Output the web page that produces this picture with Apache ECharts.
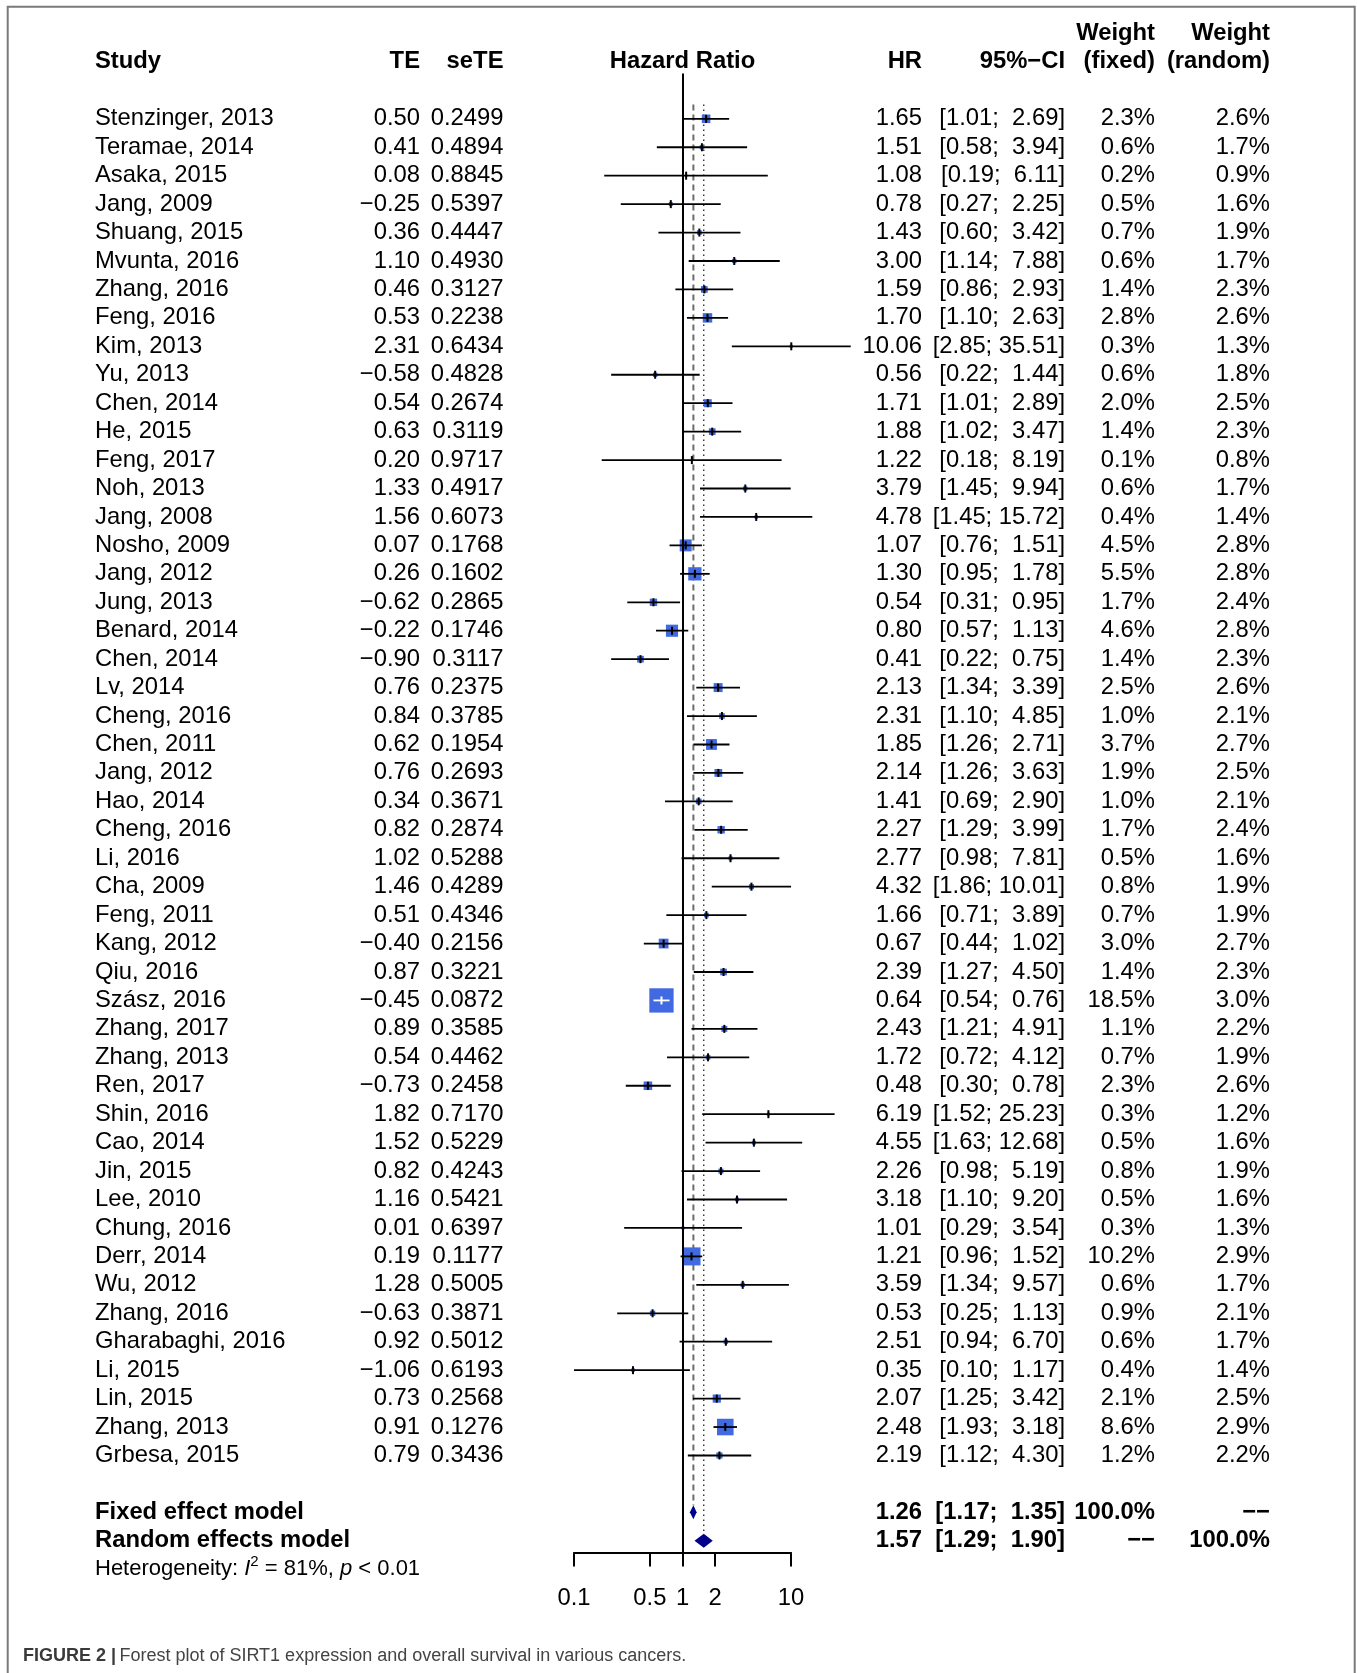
<!DOCTYPE html>
<html>
<head>
<meta charset="utf-8">
<script src="https://cdn.jsdelivr.net/npm/echarts@6/dist/echarts.min.js"></script>
<style>
  html, body { margin: 0; padding: 0; background: #fff; }
  #chart { width: 1357px; height: 1673px; }
</style>
</head>
<body>
<div id="chart"></div>
<script>
// ---- Study-level data (SIRT1 expression vs overall survival) ----
const studies = [
  'Stenzinger, 2013', 'Teramae, 2014', 'Asaka, 2015', 'Jang, 2009', 'Shuang, 2015',
  'Mvunta, 2016', 'Zhang, 2016', 'Feng, 2016', 'Kim, 2013', 'Yu, 2013',
  'Chen, 2014', 'He, 2015', 'Feng, 2017', 'Noh, 2013', 'Jang, 2008',
  'Nosho, 2009', 'Jang, 2012', 'Jung, 2013', 'Benard, 2014', 'Chen, 2014',
  'Lv, 2014', 'Cheng, 2016', 'Chen, 2011', 'Jang, 2012', 'Hao, 2014',
  'Cheng, 2016', 'Li, 2016', 'Cha, 2009', 'Feng, 2011', 'Kang, 2012',
  'Qiu, 2016', 'Szász, 2016', 'Zhang, 2017', 'Zhang, 2013', 'Ren, 2017',
  'Shin, 2016', 'Cao, 2014', 'Jin, 2015', 'Lee, 2010', 'Chung, 2016',
  'Derr, 2014', 'Wu, 2012', 'Zhang, 2016', 'Gharabaghi, 2016', 'Li, 2015',
  'Lin, 2015', 'Zhang, 2013', 'Grbesa, 2015'
];
const te = [
  0.50, 0.41, 0.08, -0.25, 0.36, 1.10, 0.46, 0.53, 2.31, -0.58,
  0.54, 0.63, 0.20, 1.33, 1.56, 0.07, 0.26, -0.62, -0.22, -0.90,
  0.76, 0.84, 0.62, 0.76, 0.34, 0.82, 1.02, 1.46, 0.51, -0.40,
  0.87, -0.45, 0.89, 0.54, -0.73, 1.82, 1.52, 0.82, 1.16, 0.01,
  0.19, 1.28, -0.63, 0.92, -1.06, 0.73, 0.91, 0.79
];
const seTE = [
  0.2499, 0.4894, 0.8845, 0.5397, 0.4447, 0.4930, 0.3127, 0.2238, 0.6434, 0.4828,
  0.2674, 0.3119, 0.9717, 0.4917, 0.6073, 0.1768, 0.1602, 0.2865, 0.1746, 0.3117,
  0.2375, 0.3785, 0.1954, 0.2693, 0.3671, 0.2874, 0.5288, 0.4289, 0.4346, 0.2156,
  0.3221, 0.0872, 0.3585, 0.4462, 0.2458, 0.7170, 0.5229, 0.4243, 0.5421, 0.6397,
  0.1177, 0.5005, 0.3871, 0.5012, 0.6193, 0.2568, 0.1276, 0.3436
];
const hr = [
  1.65, 1.51, 1.08, 0.78, 1.43, 3.00, 1.59, 1.70, 10.06, 0.56,
  1.71, 1.88, 1.22, 3.79, 4.78, 1.07, 1.30, 0.54, 0.80, 0.41,
  2.13, 2.31, 1.85, 2.14, 1.41, 2.27, 2.77, 4.32, 1.66, 0.67,
  2.39, 0.64, 2.43, 1.72, 0.48, 6.19, 4.55, 2.26, 3.18, 1.01,
  1.21, 3.59, 0.53, 2.51, 0.35, 2.07, 2.48, 2.19
];
const ciLow = [
  1.01, 0.58, 0.19, 0.27, 0.60, 1.14, 0.86, 1.10, 2.85, 0.22,
  1.01, 1.02, 0.18, 1.45, 1.45, 0.76, 0.95, 0.31, 0.57, 0.22,
  1.34, 1.10, 1.26, 1.26, 0.69, 1.29, 0.98, 1.86, 0.71, 0.44,
  1.27, 0.54, 1.21, 0.72, 0.30, 1.52, 1.63, 0.98, 1.10, 0.29,
  0.96, 1.34, 0.25, 0.94, 0.10, 1.25, 1.93, 1.12
];
const ciHigh = [
  2.69, 3.94, 6.11, 2.25, 3.42, 7.88, 2.93, 2.63, 35.51, 1.44,
  2.89, 3.47, 8.19, 9.94, 15.72, 1.51, 1.78, 0.95, 1.13, 0.75,
  3.39, 4.85, 2.71, 3.63, 2.90, 3.99, 7.81, 10.01, 3.89, 1.02,
  4.50, 0.76, 4.91, 4.12, 0.78, 25.23, 12.68, 5.19, 9.20, 3.54,
  1.52, 9.57, 1.13, 6.70, 1.17, 3.42, 3.18, 4.30
];
const weightFixed = [
  2.3, 0.6, 0.2, 0.5, 0.7, 0.6, 1.4, 2.8, 0.3, 0.6,
  2.0, 1.4, 0.1, 0.6, 0.4, 4.5, 5.5, 1.7, 4.6, 1.4,
  2.5, 1.0, 3.7, 1.9, 1.0, 1.7, 0.5, 0.8, 0.7, 3.0,
  1.4, 18.5, 1.1, 0.7, 2.3, 0.3, 0.5, 0.8, 0.5, 0.3,
  10.2, 0.6, 0.9, 0.6, 0.4, 2.1, 8.6, 1.2
];
const weightRandom = [
  2.6, 1.7, 0.9, 1.6, 1.9, 1.7, 2.3, 2.6, 1.3, 1.8,
  2.5, 2.3, 0.8, 1.7, 1.4, 2.8, 2.8, 2.4, 2.8, 2.3,
  2.6, 2.1, 2.7, 2.5, 2.1, 2.4, 1.6, 1.9, 1.9, 2.7,
  2.3, 3.0, 2.2, 1.9, 2.6, 1.2, 1.6, 1.9, 1.6, 1.3,
  2.9, 1.7, 2.1, 1.7, 1.4, 2.5, 2.9, 2.2
];

// ---- Pooled estimates ----
const modelNames = ['Fixed effect model', 'Random effects model'];
const modelHR = [1.26, 1.57];
const modelLow = [1.17, 1.29];
const modelHigh = [1.35, 1.90];
const modelWeightFixed = ['100.0%', '\u2212\u2212'];
const modelWeightRandom = ['\u2212\u2212', '100.0%'];
const hetI2 = '81%';
const hetP = '< 0.01';

// ---- Axis ticks (hazard ratio scale) ----
const tickValues = [0.1, 0.5, 1, 2, 10];

// ---- Layout ----
const FONT = '"Liberation Sans", Arial, Helvetica, sans-serif';
const FS = 23.8;
const ROW_H = 28.44;
const FIRST_ROW_Y = 118.8;
const GRID_TOP = 73.5, GRID_BOTTOM = 1552.5;
const Y_MIN = (GRID_TOP - FIRST_ROW_Y) / ROW_H;
const Y_MAX = (GRID_BOTTOM - FIRST_ROW_Y) / ROW_H;
const BOX_SCALE = 5.65;            // square side per sqrt(weight %)
const COL = { study: 95, te: 420, se: 503.5, hr: 922, ci: 1065, wf: 1155, wr: 1270 };
const SUMMARY_ROW = studies.length + 1;   // one blank row after the studies
const HET_ROW = SUMMARY_ROW + 2;

const lg = v => Math.log10(v);
const signed = (v, d) => (v < 0 ? '\u2212' : '') + Math.abs(v).toFixed(d);
const ciText = (lo, hi) => '[' + lo.toFixed(2).padStart(4, ' ') + '; ' + hi.toFixed(2).padStart(5, ' ') + ']';

function txt(str, x, y, align, bold, size) {
  return {
    type: 'text',
    style: {
      text: str, x: x, y: y,
      align: align, verticalAlign: 'middle',
      fontFamily: FONT, fontSize: size || FS, fontWeight: bold ? 'bold' : 'normal',
      fill: '#000'
    }
  };
}

const studyData = studies.map((s, i) => [lg(hr[i]), i, lg(ciLow[i]), lg(ciHigh[i]), weightFixed[i]]);
const modelData = modelNames.map((m, k) => [lg(modelHR[k]), SUMMARY_ROW + k, lg(modelLow[k]), lg(modelHigh[k])]);

const chart = echarts.init(document.getElementById('chart'), null, { renderer: 'canvas' });

chart.setOption({
  animation: false,
  backgroundColor: '#fff',
  grid: { left: 574, width: 217, top: GRID_TOP, height: GRID_BOTTOM - GRID_TOP },
  xAxis: {
    type: 'value', min: -1, max: 1,
    splitLine: { show: false },
    axisLine: { show: true, onZero: false, lineStyle: { color: '#000', width: 2 } },
    axisTick: { show: true, length: 14, lineStyle: { color: '#000', width: 2 }, customValues: tickValues.map(lg) },
    axisLabel: {
      show: true, margin: 34, color: '#000', fontFamily: FONT, fontSize: FS,
      customValues: tickValues.map(lg),
      formatter: v => String(Number(Math.pow(10, v).toPrecision(3)))
    }
  },
  yAxis: { type: 'value', inverse: true, min: Y_MIN, max: Y_MAX, show: false },
  graphic: [
    {
      type: 'rect', silent: true, z: 100,
      shape: { x: 7.7, y: 6.7, width: 1347, height: 1700 },
      style: { fill: 'none', stroke: '#7a7a7a', lineWidth: 2 }
    },
    {
      type: 'text', silent: true, x: 23, y: 1656,
      style: {
        text: '{b|FIGURE 2 |} {r|Forest plot of SIRT1 expression and overall survival in various cancers.}',
        verticalAlign: 'middle',
        rich: {
          b: { fontFamily: FONT, fontSize: 18, fontWeight: 'bold', fill: '#3a3a3a' },
          r: { fontFamily: FONT, fontSize: 18, fill: '#444' }
        }
      }
    }
  ],
  series: [
    // pooled-estimate reference lines (fixed: dashed, random: dotted)
    {
      type: 'custom', clip: false, silent: true, z: 1,
      data: modelData,
      renderItem(params, api) {
        const k = params.dataIndex;
        const top = api.coord([api.value(0), -0.5]);
        const bot = api.coord([api.value(0), api.value(1)]);
        return {
          type: 'line',
          shape: { x1: top[0], y1: top[1], x2: bot[0], y2: bot[1] - 7 },
          style: k === 0
            ? { stroke: '#6b6b6b', lineWidth: 2, lineDash: [6, 4] }
            : { stroke: '#222', lineWidth: 1.3, lineDash: [1.4, 3.6] }
        };
      }
    },
    // individual studies: weighted box, confidence interval and point marker
    {
      type: 'custom', clip: false, silent: true, z: 3,
      data: studyData,
      markLine: {
        silent: true, symbol: 'none', label: { show: false },
        lineStyle: { color: '#000', width: 2, type: 'solid' },
        data: [{ xAxis: 0 }]
      },
      renderItem(params, api) {
        const c = api.coord([api.value(0), api.value(1)]);
        const lo = api.coord([api.value(2), api.value(1)]);
        const hi = api.coord([api.value(3), api.value(1)]);
        const side = BOX_SCALE * Math.sqrt(api.value(4));
        const inside = lo[0] >= c[0] - side / 2 && hi[0] <= c[0] + side / 2;
        const ink = inside ? '#fff' : '#000';
        return {
          type: 'group',
          children: [
            { type: 'rect', shape: { x: c[0] - side / 2, y: c[1] - side / 2, width: side, height: side },
              style: { fill: '#4169e1' } },
            { type: 'line', shape: { x1: lo[0], y1: c[1], x2: hi[0], y2: c[1] },
              style: { stroke: ink, lineWidth: 1.8 } },
            { type: 'line', shape: { x1: c[0], y1: c[1] - 4, x2: c[0], y2: c[1] + 4 },
              style: { stroke: ink, lineWidth: 2 } }
          ]
        };
      }
    },
    // pooled diamonds
    {
      type: 'custom', clip: false, silent: true, z: 4,
      data: modelData,
      renderItem(params, api) {
        const c = api.coord([api.value(0), api.value(1)]);
        const lo = api.coord([api.value(2), api.value(1)]);
        const hi = api.coord([api.value(3), api.value(1)]);
        return {
          type: 'polygon',
          shape: { points: [[lo[0], c[1]], [c[0], c[1] - 7], [hi[0], c[1]], [c[0], c[1] + 7]] },
          style: { fill: '#00008b' }
        };
      }
    },
    // table text for each study row
    {
      type: 'custom', clip: false, silent: true, z: 5,
      data: studies.map((s, i) => [0, i]),
      renderItem(params, api) {
        const i = params.dataIndex;
        const y = api.coord([0, api.value(1)])[1];
        return {
          type: 'group',
          children: [
            txt(studies[i], COL.study, y, 'left'),
            txt(signed(te[i], 2), COL.te, y, 'right'),
            txt(seTE[i].toFixed(4), COL.se, y, 'right'),
            txt(hr[i].toFixed(2), COL.hr, y, 'right'),
            txt(ciText(ciLow[i], ciHigh[i]), COL.ci, y, 'right'),
            txt(weightFixed[i].toFixed(1) + '%', COL.wf, y, 'right'),
            txt(weightRandom[i].toFixed(1) + '%', COL.wr, y, 'right')
          ]
        };
      }
    },
    // header, pooled-model rows and heterogeneity statement
    {
      type: 'custom', clip: false, silent: true, z: 5,
      data: [[0, -2]],
      renderItem(params, api) {
        const row = r => api.coord([0, r])[1];
        const xOne = api.coord([0, 0])[0];
        const h = row(-2), h2 = row(-3);
        const kids = [
          txt('Study', COL.study, h, 'left', true),
          txt('TE', COL.te, h, 'right', true),
          txt('seTE', COL.se, h, 'right', true),
          txt('Hazard Ratio', xOne, h, 'center', true),
          txt('HR', COL.hr, h, 'right', true),
          txt('95%\u2212CI', COL.ci, h, 'right', true),
          txt('Weight', COL.wf, h2, 'right', true),
          txt('(fixed)', COL.wf, h, 'right', true),
          txt('Weight', COL.wr, h2, 'right', true),
          txt('(random)', COL.wr, h, 'right', true)
        ];
        modelNames.forEach((m, k) => {
          const y = row(SUMMARY_ROW + k);
          kids.push(
            txt(m, COL.study, y, 'left', true),
            txt(modelHR[k].toFixed(2), COL.hr, y, 'right', true),
            txt(ciText(modelLow[k], modelHigh[k]), COL.ci, y, 'right', true),
            txt(modelWeightFixed[k], COL.wf, y, 'right', true),
            txt(modelWeightRandom[k], COL.wr, y, 'right', true)
          );
        });
        kids.push({
          type: 'text',
          style: {
            x: COL.study, y: row(HET_ROW), verticalAlign: 'middle', align: 'left',
            text: '{n|Heterogeneity: }{i|I}{s|2}{n| = ' + hetI2 + ', }{i|p}{n| ' + hetP + '}',
            rich: {
              n: { fontFamily: FONT, fontSize: 22, lineHeight: 30, fill: '#000' },
              i: { fontFamily: FONT, fontSize: 22, lineHeight: 30, fontStyle: 'italic', fill: '#000' },
              s: { fontFamily: FONT, fontSize: 15, lineHeight: 14, verticalAlign: 'top', fill: '#000' }
            }
          }
        });
        return { type: 'group', children: kids };
      }
    }
  ]
});
</script>
</body>
</html>
